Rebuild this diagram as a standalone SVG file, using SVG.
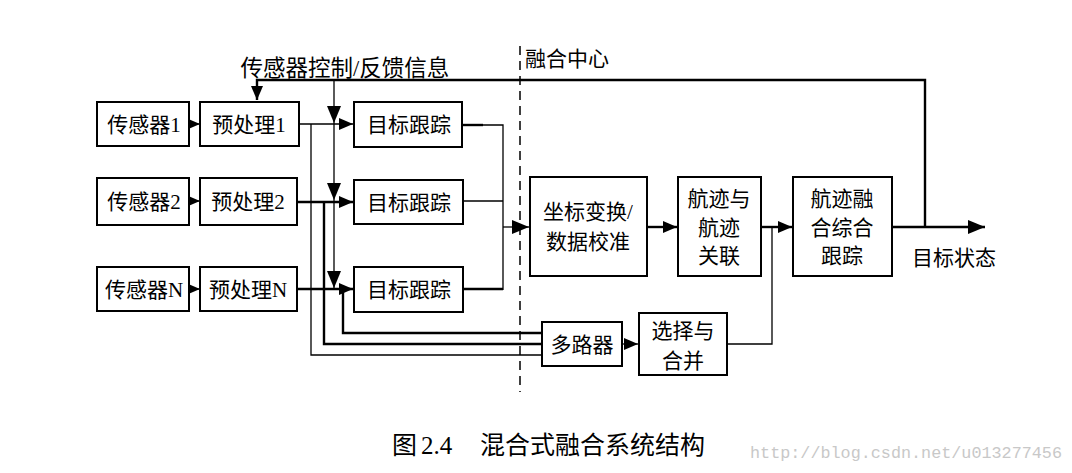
<svg xmlns="http://www.w3.org/2000/svg" width="1072" height="473" viewBox="0 0 1072 473">
<style>
.box{fill:#fff;stroke:#000;stroke-width:2}
.t{font-family:"Liberation Serif","Noto Sans CJK SC",serif;font-size:21px;fill:#000;text-anchor:middle}
.thin{fill:none;stroke:#000;stroke-width:1.3}
.thick{fill:none;stroke:#000;stroke-width:2.4}
</style>
<defs>
<marker id="a" markerUnits="userSpaceOnUse" markerWidth="16" markerHeight="14" refX="14" refY="6" orient="auto">
<path d="M0,0 L14,6 L0,12 Z" fill="#000"/>
</marker>
<marker id="b" markerUnits="userSpaceOnUse" markerWidth="20" markerHeight="16" refX="17" refY="7" orient="auto">
<path d="M0,0 L17,7 L0,14 Z" fill="#000"/>
</marker>
</defs>
<rect width="1072" height="473" fill="#fff"/>

<g id="connectors">
<path class="thick" d="M925,227 V80 H257 V100" marker-end="url(#a)"/>
<path class="thin" d="M925,80 V227"/>
<path class="thin" d="M334,80 V123" marker-end="url(#b)"/>
<path class="thin" d="M334,123 V200" marker-end="url(#b)"/>
<path class="thin" d="M334,200 V288" marker-end="url(#b)"/>
<path class="thin" d="M189,124 H200" marker-end="url(#a)"/>
<path class="thin" d="M189,201 H200" marker-end="url(#a)"/>
<path class="thin" d="M189,289 H200" marker-end="url(#a)"/>
<path class="thin" d="M299,124 H353" marker-end="url(#a)"/>
<path class="thick" d="M297,202 H353" marker-end="url(#a)"/>
<path class="thick" d="M297,289 H353" marker-end="url(#a)"/>
<path class="thin" d="M311,124 V355 H542"/>
<path class="thick" d="M324,202 V344 H542"/>
<path class="thick" d="M343,289 V333 H542"/>
<path class="thick" d="M462,125 H483"/>
<path class="thin" d="M483,125 H503 V290"/>
<path class="thin" d="M463,201 H503"/>
<path class="thick" d="M463,289 H503"/>
<path class="thin" d="M503,227 H529" marker-end="url(#b)"/>
<path class="thick" d="M647,227 H677" marker-end="url(#a)"/>
<path class="thick" d="M761,227 H792" marker-end="url(#a)"/>
<path class="thick" d="M892,227 H985" marker-end="url(#b)"/>
<path class="thin" d="M622,344 H638" marker-end="url(#a)"/>
<path class="thin" d="M727,344 H772 V227"/>
<path d="M520,46 V392" fill="none" stroke="#000" stroke-width="1.5" stroke-dasharray="9,6"/>
</g>

<g id="s1"><rect class="box" x="97" y="102" width="92" height="44"/><text class="t" x="144" y="132">传感器1</text></g>
<g id="p1"><rect class="box" x="200" y="102" width="99" height="44"/><text class="t" x="249" y="132">预处理1</text></g>
<g id="k1"><rect class="box" x="354" y="102" width="108" height="45"/><text class="t" x="409" y="132">目标跟踪</text></g>
<g id="s2"><rect class="box" x="97" y="178" width="92" height="47"/><text class="t" x="144" y="209">传感器2</text></g>
<g id="p2"><rect class="box" x="200" y="178" width="97" height="47"/><text class="t" x="248" y="209">预处理2</text></g>
<g id="k2"><rect class="box" x="354" y="180" width="109" height="44"/><text class="t" x="409" y="210">目标跟踪</text></g>
<g id="sN"><rect class="box" x="97" y="267" width="92" height="44"/><text class="t" x="144" y="297">传感器N</text></g>
<g id="pN"><rect class="box" x="200" y="267" width="97" height="44"/><text class="t" x="248" y="297">预处理N</text></g>
<g id="kN"><rect class="box" x="354" y="267" width="109" height="45"/><text class="t" x="409" y="297">目标跟踪</text></g>

<g id="coord"><rect class="box" x="530" y="177" width="117" height="99"/><text class="t" x="588" y="219">坐标变换/</text><text class="t" x="588" y="249">数据校准</text></g>
<g id="assoc"><rect class="box" x="678" y="177" width="83" height="99"/><text class="t" x="719" y="206">航迹与</text><text class="t" x="719" y="235">航迹</text><text class="t" x="719" y="263">关联</text></g>
<g id="fuse"><rect class="box" x="793" y="177" width="99" height="99"/><text class="t" x="842" y="206">航迹融</text><text class="t" x="842" y="235">合综合</text><text class="t" x="842" y="263">跟踪</text></g>
<g id="mux"><rect class="box" x="542" y="322" width="80" height="44"/><text class="t" x="582" y="352">多路器</text></g>
<g id="sel"><rect class="box" x="639" y="313" width="88" height="62"/><text class="t" x="683" y="338">选择与</text><text class="t" x="683" y="368">合并</text></g>

<g id="labels">
<text class="t" x="345" y="76" style="font-size:22.5px">传感器控制/反馈信息</text>
<text class="t" x="525" y="66" style="text-anchor:start">融合中心</text>
<text class="t" x="912" y="265" style="text-anchor:start">目标状态</text>
<text class="t" x="392" y="454" style="text-anchor:start;font-size:25px">图</text>
<text class="t" x="421" y="454" style="text-anchor:start;font-size:25px">2.4</text>
<text class="t" x="480" y="454" style="text-anchor:start;font-size:25px">混合式融合系统结构</text>
<text x="750" y="458" font-family="Liberation Mono, monospace" font-size="17" fill="#c8c8c8" textLength="312" lengthAdjust="spacingAndGlyphs">http://blog.csdn.net/u013277456</text>
</g>
</svg>
